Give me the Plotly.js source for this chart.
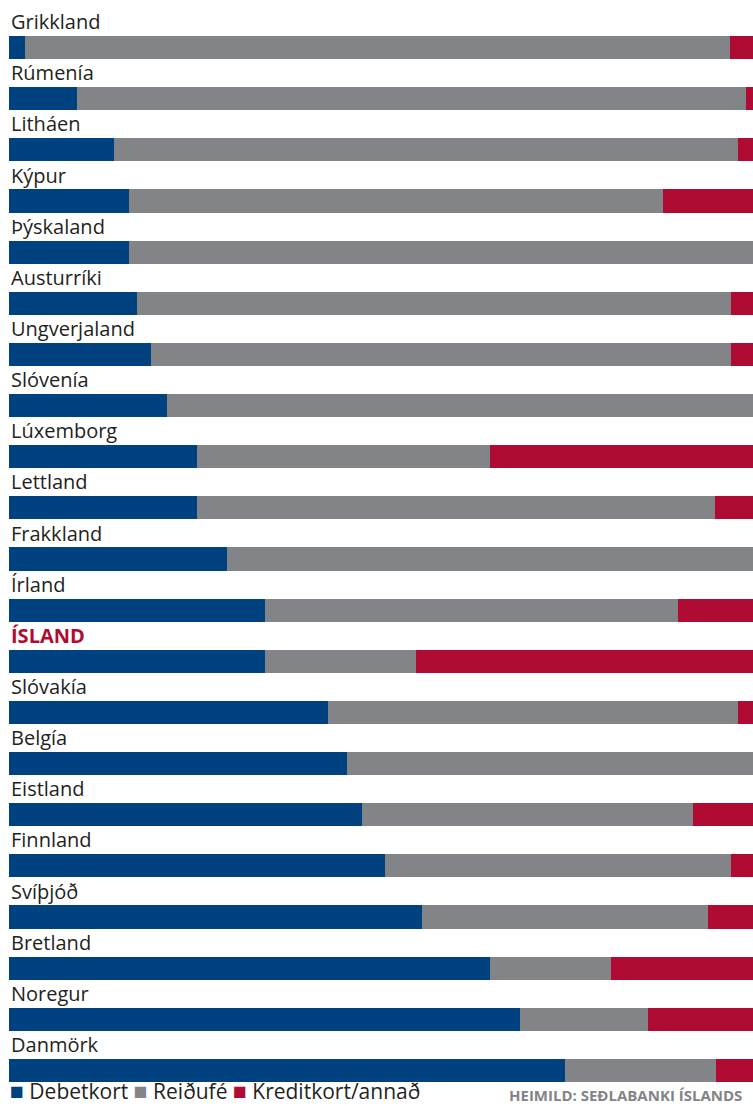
<!DOCTYPE html>
<html>
<head>
<meta charset="utf-8">
<script src="https://cdn.plot.ly/plotly-3.0.1.min.js"></script>
<style>html,body{margin:0;padding:0;background:#fff;}#chart{width:753px;height:1106px;}</style>
</head>
<body>
<div id="chart"></div>
<script>
const countries = ["Grikkland","Rúmenía","Litháen","Kýpur","Þýskaland","Austurríki","Ungverjaland","Slóvenía","Lúxemborg","Lettland","Frakkland","Írland","ÍSLAND","Slóvakía","Belgía","Eistland","Finnland","Svíþjóð","Bretland","Noregur","Danmörk"];
const debetkort = [2.2, 9.1, 14.1, 16.1, 16.1, 17.2, 19.1, 21.2, 25.3, 25.3, 29.3, 34.4, 34.4, 42.9, 45.4, 47.4, 50.5, 55.5, 64.7, 68.7, 74.7];
const reidufe   = [94.7, 90.0, 83.9, 71.8, 83.9, 79.8, 77.9, 78.8, 39.4, 69.6, 70.7, 55.5, 20.3, 55.1, 54.6, 44.5, 46.5, 38.5, 16.2, 17.2, 20.3];
const kreditkort= [3.1, 0.9, 2.0, 12.1, 0.0, 3.0, 3.0, 0.0, 35.3, 5.1, 0.0, 10.1, 45.3, 2.0, 0.0, 8.1, 3.0, 6.0, 19.1, 14.1, 5.0];
const seriesNames = ["Debetkort","Reiðufé","Kreditkort/annað"];
const source = "HEIMILD: SEÐLABANKI ÍSLANDS";

const colors = ["#00427f","#838488","#b00c33"];
const idx = countries.map((_, i) => i);
const series = [debetkort, reidufe, kreditkort];

const traces = series.map((vals, k) => ({
  type: "bar",
  orientation: "h",
  y: idx,
  x: vals,
  name: seriesNames[k],
  marker: {color: colors[k], line: {width: 0}},
  width: 0.45,
  hovertemplate: "%{customdata}: %{x}%<extra>" + seriesNames[k] + "</extra>",
  customdata: countries,
  showlegend: false
}));

const annotations = countries.map((c, i) => ({
  xref: "paper", yref: "y",
  x: 0, y: i,
  xanchor: "left", yanchor: "middle",
  yshift: 26,
  text: c === "ÍSLAND" ? "<b>" + c + "</b>" : c,
  showarrow: false,
  font: {family: "Open Sans, sans-serif", size: 20, color: c === "ÍSLAND" ? "#b00c33" : "#231f20"}
}));

const legendText = seriesNames.map((n, k) =>
  '<span style="color:' + colors[k] + ';font-size:23px">■</span> ' + n).join(" ");
annotations.push({
  xref: "paper", yref: "paper",
  x: 0, y: 0, xanchor: "left", yanchor: "bottom",
  yshift: -11, borderpad: 0,
  text: legendText, showarrow: false,
  font: {family: "Open Sans, sans-serif", size: 21, color: "#231f20"}
});
annotations.push({
  xref: "paper", yref: "paper",
  x: 1, y: 0, xanchor: "right", yanchor: "bottom",
  xshift: -10, yshift: -10, borderpad: 0,
  text: "<b>" + source + "</b>", showarrow: false,
  font: {family: "Open Sans, sans-serif", size: 15, color: "#838488"}
});

const layout = {
  width: 753, height: 1106,
  margin: {l: 9, r: 0, t: 22, b: 10},
  paper_bgcolor: "#fff", plot_bgcolor: "#fff",
  barmode: "stack",
  xaxis: {range: [0, 100], visible: false, fixedrange: true},
  yaxis: {range: [20.5, -0.5], visible: false, fixedrange: true},
  annotations: annotations,
  showlegend: false
};

Plotly.newPlot("chart", traces, layout, {displayModeBar: false, staticPlot: true});
</script>
</body>
</html>
